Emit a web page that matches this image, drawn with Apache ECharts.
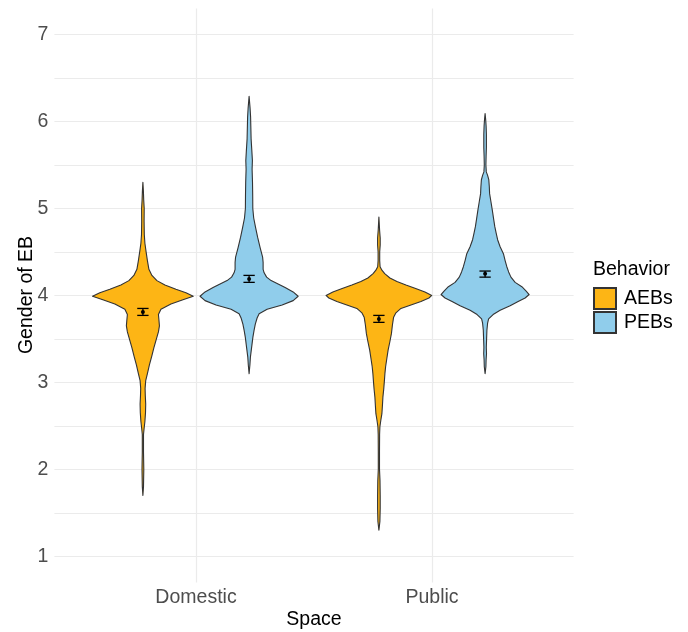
<!DOCTYPE html>
<html>
<head>
<meta charset="utf-8">
<script src="https://cdn.jsdelivr.net/npm/echarts@6/dist/echarts.min.js"></script>
<style>
  html, body { margin: 0; padding: 0; background: #ffffff; }
  #chart { width: 688px; height: 632px; }
</style>
</head>
<body>
<div id="chart"></div>
<script>
// Categories and groups
const spaces = ['Domestic', 'Public'];
const behaviors = ['AEBs', 'PEBs'];
const yTickValues = [1, 2, 3, 4, 5, 6, 7];
const yGridValues = [1, 1.5, 2, 2.5, 3, 3.5, 4, 4.5, 5, 5.5, 6, 6.5, 7];

// Kernel density profiles (relative density at each level of Gender of EB)
const domesticAEB_y = [1.70, 1.80, 2.00, 2.20, 2.40, 2.47, 2.55, 2.65, 2.75, 2.85, 2.93, 3.02, 3.10, 3.20, 3.30, 3.40, 3.50, 3.58, 3.65, 3.72, 3.78, 3.84, 3.90, 3.95, 3.99, 4.03, 4.07, 4.12, 4.17, 4.23, 4.30, 4.40, 4.50, 4.60, 4.70, 4.85, 5.00, 5.10, 5.20, 5.30];
const domesticAEB_d = [0, 0.6, 0.9, 0.6, 0.6, 1.2, 2.0, 2.6, 2.8, 2.4, 2.2, 2.8, 4.5, 6.5, 8.8, 11, 13.5, 15.5, 16.5, 16, 15.5, 18, 28, 40, 50.3, 43, 33, 22, 14, 9, 6, 4.5, 3.2, 2.0, 1.4, 1.2, 1.3, 0.8, 0.5, 0];

const domesticPEB_y = [3.10, 3.20, 3.29, 3.40, 3.52, 3.60, 3.67, 3.74, 3.79, 3.84, 3.89, 3.94, 3.99, 4.04, 4.09, 4.12, 4.17, 4.21, 4.26, 4.30, 4.38, 4.44, 4.55, 4.67, 4.78, 4.89, 5.00, 5.15, 5.30, 5.45, 5.55, 5.65, 5.80, 5.95, 6.05, 6.15, 6.29];
const domesticPEB_d = [0, 0.8, 1.3, 2.5, 3.8, 5, 6.2, 8, 10, 18, 33, 44, 49, 44, 36, 31, 22, 17.5, 15, 14, 14, 13.5, 11, 8.5, 6.5, 4.6, 3.7, 3.6, 3.4, 3.0, 3.3, 2.8, 2.0, 1.7, 1.5, 1.0, 0];

const publicAEB_y = [1.30, 1.40, 1.55, 1.70, 1.87, 2.00, 2.20, 2.40, 2.49, 2.57, 2.64, 2.73, 2.83, 2.92, 3.02, 3.10, 3.18, 3.28, 3.37, 3.47, 3.56, 3.66, 3.75, 3.80, 3.85, 3.89, 3.93, 3.97, 4.00, 4.04, 4.08, 4.12, 4.16, 4.20, 4.25, 4.29, 4.33, 4.40, 4.50, 4.58, 4.66, 4.75, 4.90];
const publicAEB_d = [0, 1.0, 1.3, 1.3, 1.1, 0.6, 0.6, 0.7, 1.0, 2.0, 3.0, 3.5, 4.0, 4.8, 5.5, 6, 6.7, 8, 9.2, 11, 12.5, 13.5, 14.7, 17, 22, 32, 42, 50, 52.8, 46, 36.7, 27, 18, 11, 5.8, 3, 1.2, 0.8, 0.8, 1.3, 1.3, 0.7, 0];

const publicPEB_y = [3.10, 3.18, 3.26, 3.33, 3.40, 3.50, 3.60, 3.68, 3.73, 3.78, 3.83, 3.88, 3.93, 3.97, 4.01, 4.05, 4.10, 4.15, 4.21, 4.27, 4.33, 4.40, 4.48, 4.56, 4.64, 4.72, 4.79, 4.88, 4.98, 5.08, 5.17, 5.25, 5.33, 5.38, 5.42, 5.50, 5.60, 5.70, 5.85, 5.95, 6.02, 6.09];
const publicPEB_d = [0, 0.8, 1.0, 1.4, 1.2, 1.5, 1.8, 2.5, 3.5, 8, 15, 25, 33, 40, 44, 41, 36.7, 30, 25.8, 23.5, 21.7, 20, 18.3, 15, 12.5, 11, 9.7, 8.5, 7.2, 5.8, 4.5, 4.2, 3.7, 2.5, 1.2, 0.8, 1.0, 1.3, 1.3, 1.0, 0.6, 0];

// Means with lower / upper error-bar limits, per space
const aebMean = [3.81, 3.73];
const aebLow = [3.77, 3.69];
const aebHigh = [3.85, 3.77];
const pebMean = [4.19, 4.25];
const pebLow = [4.15, 4.21];
const pebHigh = [4.23, 4.28];

const aebProfiles = [
  { y: domesticAEB_y, d: domesticAEB_d },
  { y: publicAEB_y, d: publicAEB_d }
];
const pebProfiles = [
  { y: domesticPEB_y, d: domesticPEB_d },
  { y: publicPEB_y, d: publicPEB_d }
];

const DODGE = 0.225;      // dodge offset of each group from the category centre
const MAX_HALF = 0.224;   // half-width of the widest violin, in category units
const CAP_HALF = 0.024;   // half-width of error-bar caps
const maxDensity = Math.max(
  ...domesticAEB_d, ...domesticPEB_d, ...publicAEB_d, ...publicPEB_d
);

const FONT = "'Liberation Sans', Arial, Helvetica, sans-serif";
const AEB_COLOR = '#FDB515';
const PEB_COLOR = '#90CDEB';
const OUTLINE = '#333333';

function violinRenderer(profiles, offset, fill) {
  return function (params, api) {
    const i = params.dataIndex;
    const cx = api.value(0) + offset;
    const prof = profiles[i];
    const scale = MAX_HALF / maxDensity;
    const pts = [];
    for (let k = 0; k < prof.y.length; k++) {
      pts.push(api.coord([cx + prof.d[k] * scale, prof.y[k]]));
    }
    for (let k = prof.y.length - 1; k >= 0; k--) {
      pts.push(api.coord([cx - prof.d[k] * scale, prof.y[k]]));
    }
    const m = api.coord([cx, api.value(1)]);
    const lo = api.coord([cx, api.value(2)]);
    const hi = api.coord([cx, api.value(3)]);
    const xl = api.coord([cx - CAP_HALF, api.value(1)])[0];
    const xr = api.coord([cx + CAP_HALF, api.value(1)])[0];
    const barStyle = { stroke: '#000000', lineWidth: 1.3 };
    return {
      type: 'group',
      children: [
        { type: 'polygon', shape: { points: pts, smooth: 0 },
          style: { fill: fill, stroke: OUTLINE, lineWidth: 1.1, lineJoin: 'round' } },
        { type: 'line', shape: { x1: m[0], y1: lo[1], x2: m[0], y2: hi[1] }, style: barStyle },
        { type: 'line', shape: { x1: xl, y1: lo[1], x2: xr, y2: lo[1] }, style: barStyle },
        { type: 'line', shape: { x1: xl, y1: hi[1], x2: xr, y2: hi[1] }, style: barStyle },
        { type: 'circle', shape: { cx: m[0], cy: m[1], r: 2 }, style: { fill: '#000000' } }
      ]
    };
  };
}

function seriesData(mean, low, high) {
  return spaces.map((s, i) => [i + 1, mean[i], low[i], high[i]]);
}

const chart = echarts.init(document.getElementById('chart'), null, { renderer: 'canvas' });

chart.setOption({
  animation: false,
  backgroundColor: '#ffffff',
  textStyle: { fontFamily: FONT },
  grid: { left: 54.4, top: 8.4, width: 519.2, height: 574, containLabel: false },
  xAxis: {
    type: 'value',
    min: 0.4,
    max: 2.6,
    axisLine: { show: false },
    axisTick: { show: false, customValues: [1, 2] },
    axisLabel: {
      customValues: [1, 2],
      formatter: v => spaces[Math.round(v) - 1] || '',
      color: '#4D4D4D',
      fontSize: 19.5,
      fontFamily: FONT,
      margin: 5
    },
    splitLine: { show: true, lineStyle: { color: '#EBEBEB', width: 1.2 } }
  },
  yAxis: {
    type: 'value',
    min: 0.7,
    max: 7.3,
    axisLine: { show: false },
    axisTick: { show: false, customValues: yGridValues },
    axisLabel: {
      customValues: yTickValues,
      color: '#4D4D4D',
      fontSize: 19.5,
      fontFamily: FONT,
      margin: 6
    },
    splitLine: { show: true, lineStyle: { color: '#EBEBEB', width: 1.2 } }
  },
  legend: {
    orient: 'vertical',
    left: 593,
    top: 287,
    padding: 0,
    itemWidth: 22,
    itemHeight: 21,
    itemGap: 1,
    icon: 'rect',
    data: behaviors,
    textStyle: { fontSize: 19.5, color: '#000000', fontFamily: FONT, padding: [0, 0, 0, 3] },
    selectedMode: false
  },
  graphic: [
    { type: 'text', left: 593, top: 260,
      style: { text: 'Behavior', fontSize: 19.5, fill: '#000000', fontFamily: FONT } },
    { type: 'text', x: 314, y: 620,
      style: { text: 'Space', fontSize: 19.5, fill: '#000000', fontFamily: FONT,
               align: 'center', verticalAlign: 'middle' } },
    { type: 'text', x: 27, y: 295, rotation: Math.PI / 2,
      style: { text: 'Gender of EB', fontSize: 19.5, fill: '#000000', fontFamily: FONT,
               align: 'center', verticalAlign: 'middle' } }
  ],
  series: [
    {
      name: 'AEBs',
      type: 'custom',
      renderItem: violinRenderer(aebProfiles, -DODGE, AEB_COLOR),
      itemStyle: { color: AEB_COLOR, borderColor: OUTLINE, borderWidth: 1 },
      encode: { x: 0, y: 1 },
      data: seriesData(aebMean, aebLow, aebHigh),
      clip: false,
      z: 3
    },
    {
      name: 'PEBs',
      type: 'custom',
      renderItem: violinRenderer(pebProfiles, DODGE, PEB_COLOR),
      itemStyle: { color: PEB_COLOR, borderColor: OUTLINE, borderWidth: 1 },
      encode: { x: 0, y: 1 },
      data: seriesData(pebMean, pebLow, pebHigh),
      clip: false,
      z: 3
    }
  ]
});
</script>
</body>
</html>
